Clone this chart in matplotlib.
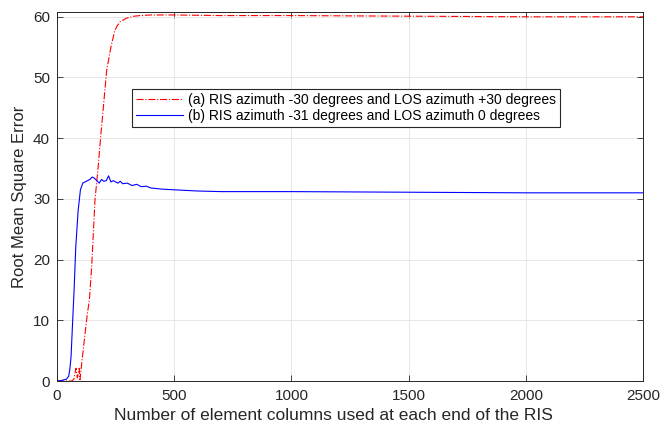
import numpy as np
import matplotlib
matplotlib.use("Agg")
import matplotlib.pyplot as plt

# ---- data ----
X_RED = [0, 40, 63, 72, 81, 87, 95, 98, 108, 120, 130, 138, 148, 162, 175,
         184, 198, 212, 230, 245, 255, 270, 298, 330, 354, 400, 500, 700,
         1000, 1500, 2000, 2500]
Y_RED = [0, 0, 0, 0.3, 2.1, 0.5, 2.1, 0.2, 3.8, 7.9, 11.2, 13.3, 18.8, 29.8,
         35.0, 39.2, 45.2, 51.2, 55.0, 57.5, 58.4, 59.2, 59.8, 60.1, 60.2,
         60.3, 60.3, 60.2, 60.2, 60.1, 60.0, 60.0]

X_BLUE = [0, 20, 40, 50, 55, 60, 67, 73, 80, 90, 100, 110, 125, 140, 150,
          160, 170, 180, 190, 200, 210, 220, 230, 240, 250, 260, 270, 280,
          300, 320, 340, 360, 380, 400, 450, 500, 600, 700, 1000, 1500,
          2000, 2500]
Y_BLUE = [0, 0.1, 0.3, 0.8, 2.0, 4.0, 10.0, 15.0, 22.0, 28.0, 31.5, 32.6,
          32.9, 33.2, 33.6, 33.4, 33.0, 32.6, 33.2, 32.9, 33.0, 33.8, 32.8,
          33.0, 32.8, 32.6, 32.9, 32.5, 32.6, 32.2, 32.4, 32.0, 32.1, 31.8,
          31.6, 31.5, 31.3, 31.2, 31.2, 31.1, 31.0, 31.0]

LABEL_RED = "(a) RIS azimuth -30 degrees and LOS azimuth +30 degrees"
LABEL_BLUE = "(b) RIS azimuth -31 degrees and LOS azimuth 0 degrees"
XTICKS = [0, 500, 1000, 1500, 2000, 2500]
YTICKS = [0, 10, 20, 30, 40, 50, 60]

plt.rcParams.update({
    "font.family": ["Liberation Sans", "DejaVu Sans"],
    "axes.edgecolor": "#262626", "axes.linewidth": 0.7,
    "xtick.color": "#262626", "ytick.color": "#262626",
})

fig = plt.figure(figsize=(6.72, 4.26), dpi=100)
ax = fig.add_axes([0.0848, 0.1056, 0.8722, 0.8664])

ax.plot(X_RED, Y_RED, color="red", linestyle="-.", linewidth=0.8,
        label=LABEL_RED)
ax.plot(X_BLUE, Y_BLUE, color="blue", linestyle="-", linewidth=0.8,
        label=LABEL_BLUE)

ax.set_xlim(0, 2500)
ax.set_ylim(0, 60.8)
ax.set_xticks(XTICKS)
ax.set_yticks(YTICKS)
ax.tick_params(direction="in", top=True, right=True, labelsize=11,
               length=4, width=0.6)
ax.tick_params(axis="x", pad=6)
ax.tick_params(axis="y", pad=5)
ax.grid(True, color="#e3e3e3", linewidth=0.6)
ax.set_axisbelow(True)

ax.set_xlabel("Number of element columns used at each end of the RIS",
              fontsize=12.5, color="#262626")
ax.xaxis.set_label_coords(0.472, -0.072)
ax.set_ylabel("Root Mean Square Error", fontsize=12, color="#262626",
              labelpad=4)

leg = ax.legend(loc="upper left", bbox_to_anchor=(0.128, 0.791),
                fontsize=10, handlelength=3.4, fancybox=False,
                framealpha=1, borderaxespad=0, borderpad=0.3,
                labelspacing=0.12, handletextpad=0.3)
leg.get_frame().set_edgecolor("#262626")
leg.get_frame().set_linewidth(0.8)

fig.savefig("out.png", dpi=100)
